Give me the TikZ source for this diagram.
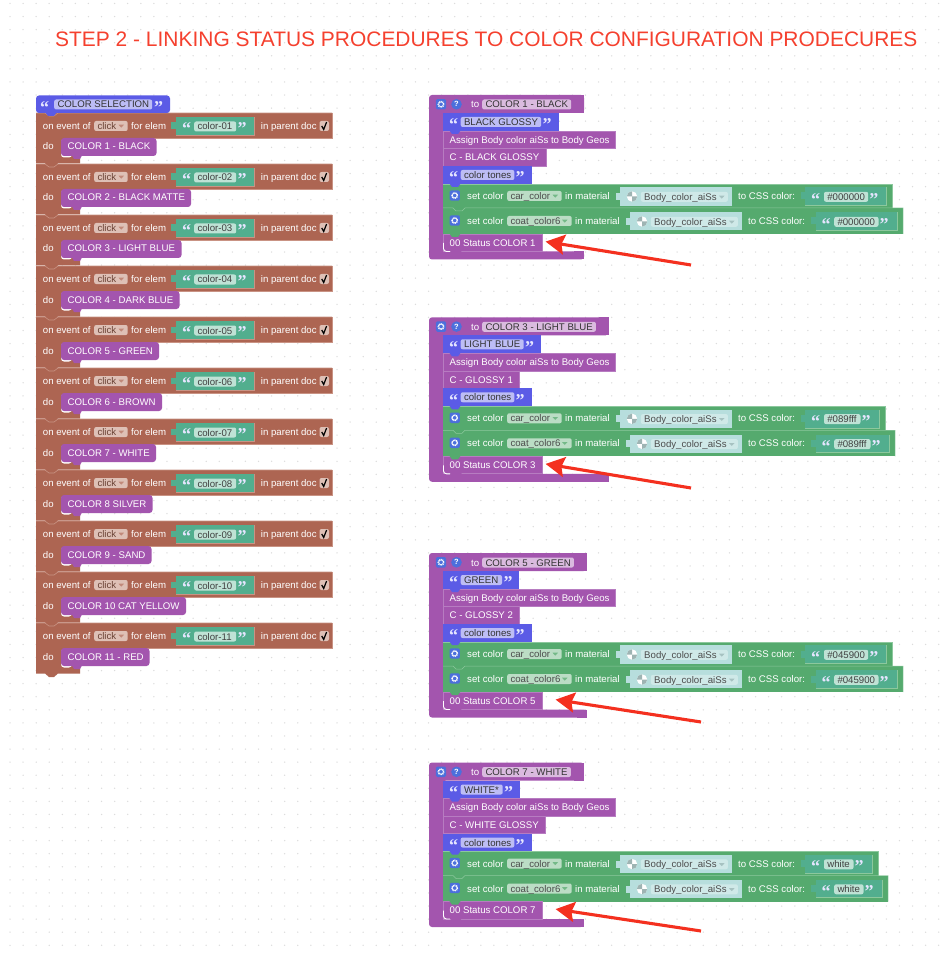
\documentclass[tikz,border=0pt]{standalone}
\usepackage{fontspec}
\setmainfont{Liberation Sans}
\newfontfamily\qfont{Liberation Serif}
\usetikzlibrary{arrows.meta,calc}
\definecolor{brn}{HTML}{AD6552}
\definecolor{brnl}{HTML}{C99384}
\definecolor{brnf}{HTML}{DEC0B6}
\definecolor{brnt}{HTML}{6B4336}
\definecolor{pur}{HTML}{A355AE}
\definecolor{purl}{HTML}{B77CC1}
\definecolor{purf}{HTML}{DABBDF}
\definecolor{blu}{HTML}{5B5BE6}
\definecolor{bluf}{HTML}{BDBDF5}
\definecolor{grn}{HTML}{55AA6E}
\definecolor{grnl}{HTML}{8CC89D}
\definecolor{grnf}{HTML}{BBDDC5}
\definecolor{tea}{HTML}{52AE8E}
\definecolor{teaf}{HTML}{BFE2D5}
\definecolor{mat}{HTML}{B7DEDD}
\definecolor{matf}{HTML}{CFE9E8}
\definecolor{dotc}{HTML}{DCDCDC}
\definecolor{redt}{HTML}{F5402E}
\definecolor{reda}{HTML}{F4301F}
\definecolor{ico}{HTML}{4C6FDC}
\newcounter{nn}
\tikzset{
  x=1pt,y=-1pt,
  lbl/.style={anchor=west,inner sep=0pt,font=\fontsize{9.65}{10}\selectfont,text height=7pt,text depth=0pt},
  fieldbox/.style={anchor=west,inner xsep=0pt,inner ysep=0pt,minimum height=10pt,rounded corners=2pt,font=\fontsize{9.65}{10}\selectfont,text height=7pt,text depth=0pt},
  quotemark/.style={anchor=base west,inner sep=0pt,text=white!90!blue,font=\qfont\bfseries\fontsize{18}{18}\selectfont},
  rowblock/.style={anchor=west,inner sep=0pt,fill=pur,draw=purl,line width=.4pt,text=white,font=\fontsize{9.65}{10}\selectfont,text height=7pt,text depth=0pt},
  redarrow/.style={-{Stealth[length=19pt,width=20pt,inset=3pt]},line width=3.1pt,draw=reda},
}
\newcommand\lab[4][white]{\stepcounter{nn}\node[lbl,text=#1] (n\arabic{nn}) at (#2,#3) {#4};}
% fill, text colour, x left, y centre, x right, text
\newcommand\fld[6]{\stepcounter{nn}\pgfmathsetmacro\fw{#5-(#3)}\pgfmathsetmacro\tw{#5-(#3)-3.3}%
  \node[fieldbox,fill=#1,text=#2,minimum width=\fw pt] (n\arabic{nn}) at (#3,#4) {\makebox[\fw pt][l]{\hspace{3.3pt}#6}};}
\newcommand\qo[2]{\stepcounter{nn}\node[quotemark] (n\arabic{nn}) at (#1-1,#2+10.2) {“};}
\newcommand\qc[2]{\stepcounter{nn}\node[quotemark] (n\arabic{nn}) at (#1-.5,#2+10.2) {”};}
\newcommand\tri[3]{\fill[#3] (#1,#2-1.3)--(#1+5.5,#2-1.3)--(#1+2.75,#2+1.7)--cycle;}
\newcommand\gear[2]{\fill[ico,rounded corners=1.5pt] (#1-5.2,#2-5.2) rectangle (#1+5.2,#2+5.2);
  \draw[white,line width=1pt,dash pattern=on .9pt off .8pt] (#1,#2) circle (3);
  \draw[white,line width=.6pt] (#1,#2) circle (2.3);}
\newcommand\ball[2]{\fill[white] (#1,#2) circle (5.2);
  \fill[mat!55!gray] (#1,#2)--(#1+5.2,#2) arc[start angle=0,end angle=90,radius=5.2]--cycle;
  \fill[mat!55!gray] (#1,#2)--(#1-5.2,#2) arc[start angle=180,end angle=270,radius=5.2]--cycle;}
\newcommand\notch[3]{\fill[#3] (#1,#2-1)--(#1+12,#2-1)--(#1+9,#2+3)--(#1+3,#2+3)--cycle;}
% i, right of call block, name text
\newcommand\evblock[3]{%
  \pgfmathsetmacro\Y{113+51*#1}
  \pgfmathtruncatemacro\num{#1+1}
  \fill[brn] (36,\Y) rectangle (332,\Y+25);
  \fill[brn] (36,\Y+25)--(80,\Y+25)--(80,\Y+50.5)--(58,\Y+50.5)--(54,\Y+54)--(49,\Y+54)--(45,\Y+50.5)--(36,\Y+50.5)--cycle;
  \draw[brnl,line width=.6pt] (36,\Y)--(45,\Y)--(49,\Y+3)--(54,\Y+3)--(58,\Y)--(332,\Y);
  \draw[brnl,line width=.5pt] (332,\Y)--(332,\Y+25)--(80,\Y+25);
  \lab{42.7}{\Y+12.7}{on event of}
  \fld{brnf}{brnt}{94}{\Y+13}{127.5}{click}
  \tri{118.5}{\Y+13}{brn!60!brnf}
  \lab{131}{\Y+12.7}{for elem}
  \fill[tea] (171,\Y+9.5) rectangle (177,\Y+16);
  \fill[tea] (176,\Y+4) rectangle (254,\Y+22);
  \draw[brnl,line width=.5pt] (254,\Y+4)--(254,\Y+22)--(176,\Y+22);
  \qo{183}{\Y+11.5}
  \fld{teaf}{black!75}{194}{\Y+13.5}{236}{color-\ifnum\num<10 0\fi\num}
  \qc{238}{\Y+11.5}
  \lab{260.7}{\Y+12.7}{in parent doc}
  \fill[brnf,rounded corners=2pt] (319.5,\Y+8) rectangle (329,\Y+18);
  \draw[black,line width=1.2pt] (321.7,\Y+13)--(323.7,\Y+16.5)--(326.6,\Y+9);
  \lab{42.7}{\Y+33.5}{do}
  \fill[white,rounded corners=3pt] (61,\Y+26)--(72,\Y+26)--(72,\Y+44.5)--(61,\Y+44.5)--cycle;
  \fill[pur,rounded corners=3pt] (61,\Y+25)--(#2,\Y+25)--(#2,\Y+43)--(61,\Y+43)--cycle;
  \fill[pur] (72,\Y+42.5)--(82,\Y+42.5)--(80,\Y+46)--(74,\Y+46)--cycle;
  \lab{67.5}{\Y+33.5}{#3}
}
% Yoffset, header right, header text, blue right, blue text, C right, C text, green1 right, green2 right
\newcommand\procblock[9]{%
  \begin{scope}[shift={(0,#1)}]
  \pgfmathsetmacro\hr{#2}
  \fill[pur,rounded corners=3pt] (429,95)--(\hr,95)--(\hr,113)--(443,113)--(443,251.5)--(\hr,251.5)--(\hr,259.5)--(429,259.5)--cycle;
  \fill[pur] (\hr-10,95) rectangle (\hr,113);
  \fill[pur] (\hr-10,251.5) rectangle (\hr,259.5);
  \gear{441}{104.3}
  \fill[ico] (456.5,104.3) circle (5.3);
  \stepcounter{nn}\node[inner sep=0pt,text=white,font=\bfseries\fontsize{7.5}{8}\selectfont] (n\arabic{nn}) at (456.5,104.3) {?};
  \lab{471}{104.5}{to}
  \fld{purf}{black!80}{482}{104.5}{#2-13}{#3}
  % blue quote row
  \fill[blu] (443,113) rectangle (#4,131);
  \qo{450}{120.5}
  \fld{bluf}{black!80}{460.5}{122}{#4-17.5}{#5}
  \qc{#4-15.5}{120.5}
  % two plain rows
  \node[rowblock,minimum width=172pt,minimum height=17.5pt] (as\pn) at (443,139.8) {\makebox[159pt][l]{Assign Body color aiSs to Body Geos}};
  \notch{449}{131}{blu}
  \pgfmathsetmacro\cw{#6-443}\pgfmathsetmacro\ct{#6-443-13}
  \node[rowblock,minimum width=\cw pt,minimum height=17.5pt] (cc\pn) at (443,157.3) {\makebox[\ct pt][l]{#7}};
  % tones row
  \fill[blu] (443,166) rectangle (531.7,184);
  \qo{450}{173.5}
  \fld{bluf}{black!80}{460.5}{175}{514.2}{color tones}
  \qc{516}{173.5}
  % green rows
  \fill[grn] (443,184) rectangle (#8,208);
  \draw[grnl,line width=.5pt] (443,184)--(#8,184)--(#8,208);
  \notch{449}{184}{blu}
  \fill[grn] (443,208) rectangle (#9,234);
  \draw[grnl,line width=.5pt] (443,208)--(453,208)--(456,211)--(462,211)--(465,208)--(#9,208)--(#9,234);
  \gear{454.7}{195.5}
  \lab{467}{196}{set color}
  \fld{grnf}{black!70}{507}{196}{561.5}{car\_color}
  \tri{552.5}{196}{grn!70!grnf}
  \lab{565}{196}{in material}
  \fill[mat] (615.5,193) rectangle (621,200);
  \fill[mat] (620,187.3) rectangle (732,205.7);
  \ball{632}{196.5}
  \fld{matf}{black!70}{640.7}{196.8}{727.7}{Body\_color\_aiSs}
  \tri{719}{197}{mat!70!gray}
  \lab{738}{196}{to CSS color:}
  \fill[tea] (800.5,192.5) rectangle (806,199.5);
  \fill[tea] (805,187.3) rectangle (#8-6,205.7);
  \draw[grnl,line width=.5pt] (#8-6,187.3)--(#8-6,205.7)--(805,205.7);
  \qo{812}{195}
  \fld{teaf}{black!75}{823.8}{196.8}{#8-24.7}{\csstext}
  \qc{#8-23}{195}
  \gear{454.7}{220.5}
  \lab{467}{221}{set color}
  \fld{grnf}{black!70}{507}{221}{571.5}{coat\_color6}
  \tri{562}{221}{grn!70!grnf}
  \lab{575}{221}{in material}
  \fill[mat] (625.5,218) rectangle (631,225);
  \fill[mat] (630,212.3) rectangle (742,230.2);
  \ball{642}{221.5}
  \fld{matf}{black!70}{650.7}{221.8}{737.7}{Body\_color\_aiSs}
  \tri{729}{222}{mat!70!gray}
  \lab{748}{221}{to CSS color:}
  \fill[tea] (810.5,217.5) rectangle (816,224.5);
  \fill[tea] (815.5,212.3) rectangle (#9-6,230.2);
  \draw[grnl,line width=.5pt] (#9-6,212.3)--(#9-6,230.2)--(815.5,230.2);
  \qo{822.5}{220}
  \fld{teaf}{black!75}{834}{221.8}{#9-24.7}{\csstext}
  \qc{#9-23}{220}
  % status row
  \node[rowblock,minimum width=98.7pt,minimum height=17.5pt] (st\pn) at (443,242.6) {\makebox[85.7pt][l]{\statustext}};
  \notch{449}{234}{grn}
  \draw[white,line width=.9pt,rounded corners=3pt] (443.5,243)--(443.5,251.5)--(450,251.5);
  \notch{450}{251.5}{pur}
  \end{scope}
}
\begin{document}
\begin{tikzpicture}
\useasboundingbox (0,0) rectangle (943,957);
\fill[white] (0,0) rectangle (943,957);
\foreach \i in {0,...,71}{\foreach \j in {0,...,72}{\fill[dotc] (10+13.08*\i,3.5+13.08*\j) circle (.75);}}
\node[anchor=west,inner sep=0pt,text=redt,font=\fontsize{20.95}{22}\selectfont] (title) at (55,39.5) {STEP 2 - LINKING STATUS PROCEDURES TO COLOR CONFIGURATION PRODECURES};
% left stack
\evblock{0}{156.5}{COLOR 1 - BLACK}
\evblock{1}{191}{COLOR 2 - BLACK MATTE}
\evblock{2}{181.5}{COLOR 3 - LIGHT BLUE}
\evblock{3}{179.5}{COLOR 4 - DARK BLUE}
\evblock{4}{159}{COLOR 5 - GREEN}
\evblock{5}{162}{COLOR 6 - BROWN}
\evblock{6}{156}{COLOR 7 - WHITE}
\evblock{7}{152.5}{COLOR 8 SILVER}
\evblock{8}{151.5}{COLOR 9 - SAND}
\evblock{9}{186}{COLOR 10 CAT YELLOW}
\evblock{10}{149.5}{COLOR 11 - RED}
\fill[blu,rounded corners=3pt] (36,95.5)--(170,95.5)--(170,113)--(36,113)--cycle;
\notch{45}{113}{blu}
\qo{41}{103}
\fld{bluf}{black!80}{54}{104.5}{152}{COLOR SELECTION}
\qc{154.5}{103}
% procedures
\def\csstext{\#000000}\def\statustext{00 Status COLOR 1}\def\pn{a}
\procblock{0}{584}{COLOR 1 - BLACK}{558.5}{BLACK GLOSSY}{545.7}{C - BLACK GLOSSY}{892.7}{903}
\def\csstext{\#089fff}\def\statustext{00 Status COLOR 3}\def\pn{b}
\procblock{222.3}{608.7}{COLOR 3 - LIGHT BLUE}{541}{LIGHT BLUE}{519.3}{C - GLOSSY 1}{885}{895}
\def\csstext{\#045900}\def\statustext{00 Status COLOR 5}\def\pn{c}
\procblock{458}{586.7}{COLOR 5 - GREEN}{519.3}{GREEN}{519.3}{C - GLOSSY 2}{892.7}{903}
\def\csstext{white}\def\statustext{00 Status COLOR 7}\def\pn{d}
\procblock{667.5}{583.7}{COLOR 7 - WHITE}{520}{WHITE*}{545}{C - WHITE GLOSSY}{878}{888}
% arrows
\coordinate (ta) at (691,265);
\coordinate (tb) at (691,488);
\coordinate (tc) at (701,722);
\coordinate (td) at (701,931);
\draw[redarrow] (ta) -- ($(sta.east)+(3.5,-1)$);
\draw[redarrow] (tb) -- ($(stb.east)+(3.5,-1)$);
\draw[redarrow] (tc) -- ($(stc.east)+(13.5,-1)$);
\draw[redarrow] (td) -- ($(std.east)+(13.5,-1)$);
\end{tikzpicture}
\end{document}
